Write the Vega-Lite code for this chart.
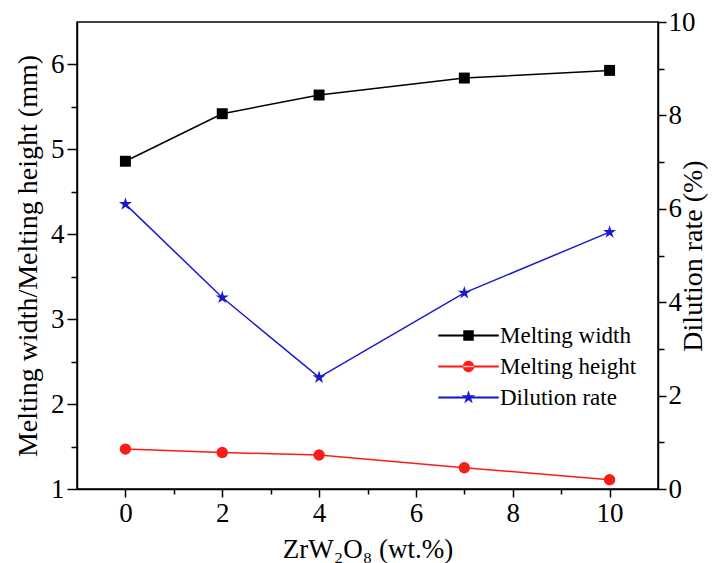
{
  "$schema": "https://vega.github.io/schema/vega-lite/v6.json",
  "width": 581,
  "height": 467,
  "autosize": {"type": "none"},
  "padding": {"left": 77, "top": 22, "right": 59, "bottom": 74},
  "background": "white",
  "config": {
    "font": "Times New Roman, Liberation Serif, serif",
    "view": {"stroke": "black", "strokeWidth": 1.5}
  },
  "data": {"values": [
    {"x": 0, "series": "Melting width", "value": 4.86},
    {"x": 2, "series": "Melting width", "value": 5.42},
    {"x": 4, "series": "Melting width", "value": 5.64},
    {"x": 7, "series": "Melting width", "value": 5.84},
    {"x": 10, "series": "Melting width", "value": 5.93},
    {"x": 0, "series": "Melting height", "value": 1.47},
    {"x": 2, "series": "Melting height", "value": 1.43},
    {"x": 4, "series": "Melting height", "value": 1.40},
    {"x": 7, "series": "Melting height", "value": 1.25},
    {"x": 10, "series": "Melting height", "value": 1.11},
    {"x": 0, "series": "Dilution rate", "value": 6.10},
    {"x": 2, "series": "Dilution rate", "value": 4.10},
    {"x": 4, "series": "Dilution rate", "value": 2.39},
    {"x": 7, "series": "Dilution rate", "value": 4.20},
    {"x": 10, "series": "Dilution rate", "value": 5.50}
  ]},
  "encoding": {
    "x": {
      "field": "x", "type": "quantitative",
      "scale": {"domain": [-1, 11], "nice": false, "zero": false},
      "axis": {
        "title": "ZrW₂O₈ (wt.%)", "titlePadding": 10,
        "titleFont": "Times New Roman, Liberation Serif, serif", "titleFontSize": 27, "titleFontWeight": "normal", "titleColor": "black",
        "labelFont": "Times New Roman, Liberation Serif, serif", "labelFontSize": 27, "labelColor": "black",
        "domainColor": "black", "domainWidth": 1.5, "tickColor": "black", "tickWidth": 1.5, "grid": false,
        "values": [0, 1, 2, 3, 4, 5, 6, 7, 8, 9, 10],
        "labelExpr": "datum.value % 2 === 0 ? format(datum.value, 'd') : ''",
        "tickSize": {"condition": {"test": "datum.value % 2 !== 0", "value": 5}, "value": 8},
        "labelPadding": 3
      }
    },
    "color": {
      "field": "series", "type": "nominal",
      "scale": {"domain": ["Melting width", "Melting height", "Dilution rate"], "range": ["#000000", "#ff1a1a", "#1a1acc"]},
      "legend": {
        "orient": "none", "legendX": 350, "legendY": 302, "title": null,
        "labelFont": "Times New Roman, Liberation Serif, serif", "labelFontSize": 23, "labelColor": "black",
        "symbolSize": 100, "rowPadding": 7, "labelOffset": 50,
        "encode": {
          "symbols": {
            "update": {
              "shape": {"signal": "datum.value === 'Melting width' ? 'M0,-0.15H12V0.15H0ZM5,-1H7V1H5Z' : (datum.value === 'Melting height' ? 'M0,-0.15H12V0.15H0ZM4.9,0A1.1,1.1 0 1,0 7.1,0A1.1,1.1 0 1,0 4.9,0Z' : 'M0,-0.15H12V0.15H0ZM6,-1.3L6.29,-0.4L7.24,-0.4L6.47,0.15L6.76,1.05L6,0.5L5.24,1.05L5.53,0.15L4.76,-0.4L5.71,-0.4Z')"},
              "fill": {"signal": "datum.value === 'Melting width' ? '#000000' : (datum.value === 'Melting height' ? '#ff1a1a' : '#1a1acc')"},
              "strokeWidth": {"value": 0.5},
              "opacity": {"value": 1}
            }
          }
        }
      }
    }
  },
  "layer": [
    {
      "transform": [{"filter": "datum.series !== 'Dilution rate'"}],
      "encoding": {
        "y": {
          "field": "value", "type": "quantitative",
          "scale": {"domain": [1, 6.5], "nice": false, "zero": false},
          "axis": {
            "orient": "left", "title": "Melting width/Melting height (mm)", "titlePadding": 8,
            "titleFont": "Times New Roman, Liberation Serif, serif", "titleFontSize": 28, "titleFontWeight": "normal", "titleColor": "black",
            "labelFont": "Times New Roman, Liberation Serif, serif", "labelFontSize": 27, "labelColor": "black",
            "domainColor": "black", "domainWidth": 1.5, "tickColor": "black", "tickWidth": 1.5, "grid": false,
            "values": [1, 1.5, 2, 2.5, 3, 3.5, 4, 4.5, 5, 5.5, 6],
            "labelExpr": "datum.value % 1 === 0 ? format(datum.value, 'd') : ''",
            "tickSize": {"condition": {"test": "datum.value % 1 !== 0", "value": 6}, "value": 10},
            "labelPadding": 3
          }
        }
      },
      "layer": [
        {"mark": {"type": "line", "strokeWidth": 1.5}},
        {
          "transform": [{"filter": "datum.series === 'Melting width'"}],
          "mark": {"type": "point", "filled": true, "opacity": 1, "size": 120, "shape": "square"}
        },
        {
          "transform": [{"filter": "datum.series === 'Melting height'"}],
          "mark": {"type": "point", "filled": true, "opacity": 1, "size": 130, "shape": "circle"}
        }
      ]
    },
    {
      "transform": [{"filter": "datum.series === 'Dilution rate'"}],
      "encoding": {
        "y": {
          "field": "value", "type": "quantitative",
          "scale": {"domain": [0, 10], "nice": false, "zero": false},
          "axis": {
            "orient": "right", "title": "Dilution rate (%)", "titleAngle": 270, "titlePadding": 12,
            "titleFont": "Times New Roman, Liberation Serif, serif", "titleFontSize": 28, "titleFontWeight": "normal", "titleColor": "black",
            "labelFont": "Times New Roman, Liberation Serif, serif", "labelFontSize": 27, "labelColor": "black",
            "domainColor": "black", "domainWidth": 1.5, "tickColor": "black", "tickWidth": 1.5, "grid": false,
            "values": [0, 1, 2, 3, 4, 5, 6, 7, 8, 9, 10],
            "labelExpr": "datum.value % 2 === 0 ? format(datum.value, 'd') : ''",
            "tickSize": {"condition": {"test": "datum.value % 2 !== 0", "value": 6}, "value": 8},
            "labelPadding": 2
          }
        }
      },
      "layer": [
        {"mark": {"type": "line", "strokeWidth": 1.5}},
        {
          "mark": {"type": "point", "filled": true, "opacity": 1, "size": 130, "shape": "M0,-1.2L0.27,-0.37L1.14,-0.37L0.43,0.14L0.71,0.97L0,0.46L-0.71,0.97L-0.43,0.14L-1.14,-0.37L-0.27,-0.37Z"}
        }
      ]
    }
  ],
  "resolve": {"scale": {"y": "independent"}}
}
